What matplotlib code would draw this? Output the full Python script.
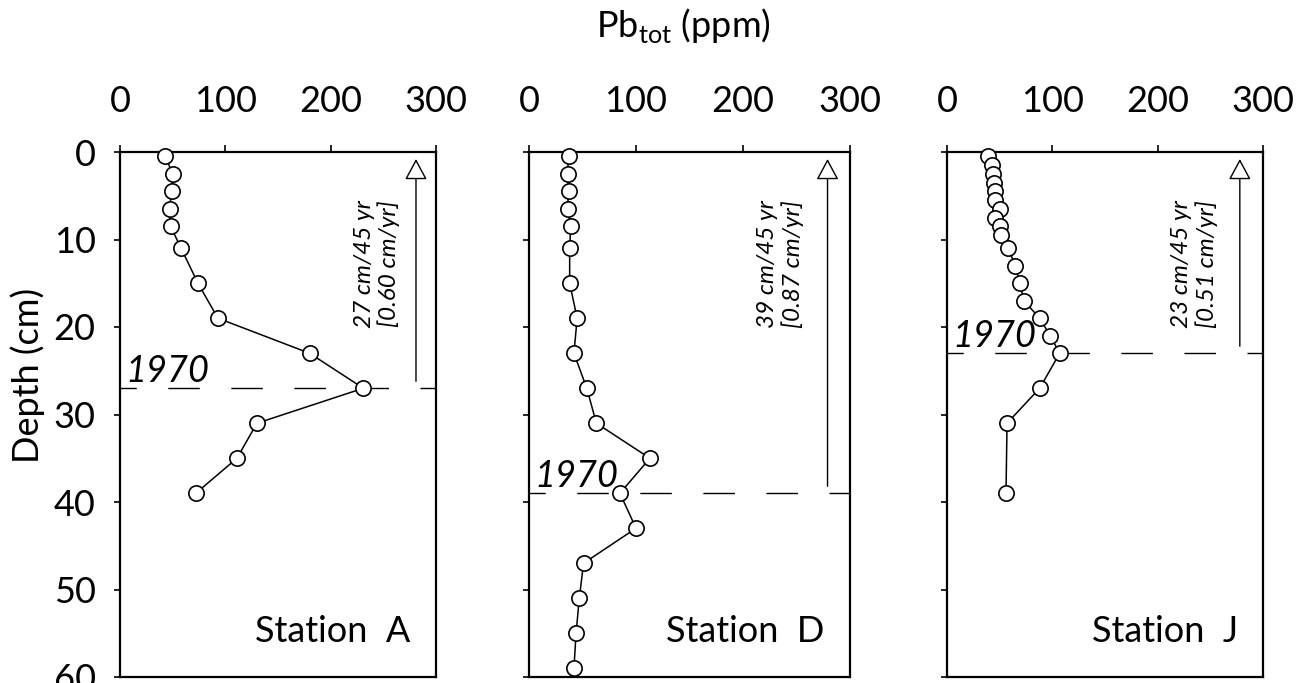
import numpy as np
import matplotlib.pyplot as plt

plt.rcParams['font.family'] = ['Lato', 'DejaVu Sans']

# --------------------------
# data
# --------------------------
stations = ['A', 'D', 'J']

depth_a = [0.5, 2.5, 4.5, 6.5, 8.5, 11, 15, 19, 23, 27, 31, 35, 39]
pb_a = [43, 50, 49, 47, 48, 58, 74, 93, 180, 231, 130, 111, 72]

depth_d = [0.5, 2.5, 4.5, 6.5, 8.5, 11, 15, 19, 23, 27, 31, 35, 39, 43, 47, 51, 55, 59]
pb_d = [37, 36, 37, 36, 39, 38, 38, 45, 42, 54, 63, 113, 85, 100, 51, 47, 44, 42]

depth_j = [0.5, 1.5, 2.5, 3.5, 4.5, 5.5, 6.5, 7.5, 8.5, 9.5, 11, 13, 15, 17, 19, 21, 23, 27, 31, 39]
pb_j = [39, 43, 44, 45, 46, 46, 50, 46, 50, 51, 58, 65, 69, 73, 88, 98, 107, 88, 57, 56]

depth_1970 = [27, 39, 23]
rate_labels = ['27 cm/45 yr\n[0.60 cm/yr]',
               '39 cm/45 yr\n[0.87 cm/yr]',
               '23 cm/45 yr\n[0.51 cm/yr]']

x_ticks = [0, 100, 200, 300]
y_ticks = [0, 10, 20, 30, 40, 50, 60]

depths = [depth_a, depth_d, depth_j]
pbs = [pb_a, pb_d, pb_j]

# --------------------------
# layout (pixel boxes of the panels)
# --------------------------
W, H = 1308, 683
boxes = [(120, 436), (529, 850), (947, 1263)]
top_px, bot_px = 152, 677

fig = plt.figure(figsize=(W / 100, H / 100), dpi=100)

arrow_x = [281, 279, 278]
text_x = [244, 235, 235]

for i in range(3):
    l, r = boxes[i]
    ax = fig.add_axes([l / W, (H - bot_px) / H, (r - l) / W, (bot_px - top_px) / H])

    # 1970 horizon
    ax.plot([0, 300], [depth_1970[i]] * 2, color='black', lw=1.0,
            linestyle=(11, (22.7, 22.7)), dash_capstyle='butt', zorder=1)
    ax.text(5, depth_1970[i] - 0.7, '1970', fontsize=26, style='italic',
            ha='left', va='baseline')

    # profile
    ax.plot(pbs[i], depths[i], color='black', lw=1.1, marker='o', ms=11,
            mfc='white', mec='black', mew=1.2, zorder=3, clip_on=False)

    # sedimentation arrow
    ax.annotate('', xy=(arrow_x[i], 0.8), xytext=(arrow_x[i], depth_1970[i] - 0.8),
                arrowprops=dict(arrowstyle='-|>,head_length=1.3,head_width=0.7',
                                fc='white', ec='black', lw=1.0, mutation_scale=10,
                                shrinkA=0, shrinkB=0))
    ax.text(text_x[i], 12.8, rate_labels[i], rotation=90, fontsize=17.5,
            style='italic', ha='center', va='center', linespacing=1.15)

    ax.text(276, 56, 'Station  ' + stations[i], fontsize=26, ha='right', va='baseline')

    ax.set_xlim(0, 300)
    ax.set_ylim(60, 0)
    ax.xaxis.tick_top()
    ax.set_xticks(x_ticks)
    ax.set_yticks(y_ticks)
    ax.tick_params(axis='x', direction='out', length=5, width=1.2, pad=19.5, labelsize=26)
    ax.tick_params(axis='y', direction='out', length=4.5, width=1.2, pad=13, labelsize=26)
    if i > 0:
        ax.set_yticklabels([])
    for s in ax.spines.values():
        s.set_linewidth(1.6)

fig.text(28 / W, 1 - 375 / H, 'Depth (cm)', rotation=90, fontsize=26,
         ha='center', va='center')
fig.text(683 / W, 1 - 37 / H, r'Pb$_{\mathregular{tot}}$ (ppm)', fontsize=26,
         ha='center', va='baseline')

fig.savefig('out.png', dpi=100)
